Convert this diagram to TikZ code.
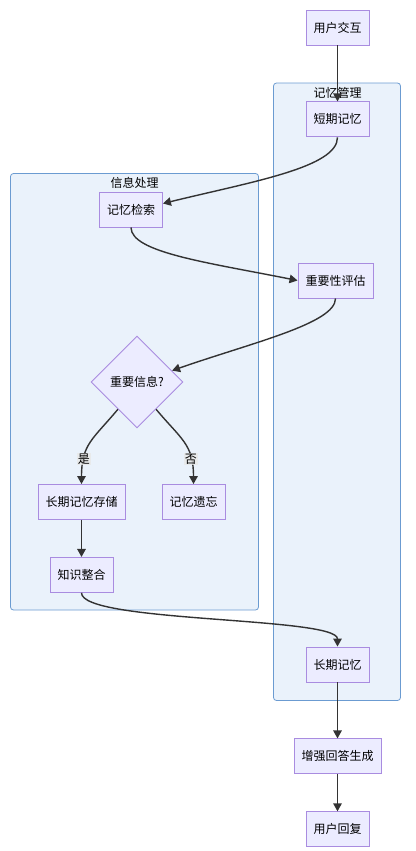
\documentclass[tikz,border=0pt]{standalone}
\usepackage{fontspec}
\newfontfamily\cjkfont{Noto Sans CJK SC}
\usetikzlibrary{arrows.meta,shapes.geometric,positioning}
\definecolor{nodefill}{HTML}{ECECFF}
\definecolor{nodeline}{HTML}{A98CE0}
\definecolor{grpfill}{HTML}{EAF2FB}
\definecolor{grpline}{HTML}{6B9BD1}
\definecolor{edgecol}{HTML}{333333}
\newcommand{\txt}{\cjkfont\fontsize{12}{14}\selectfont}

\begin{document}
\begin{tikzpicture}[
  x=1pt, y=-1pt,
  box/.style={draw=nodeline, fill=nodefill, line width=0.9pt, minimum height=35pt,
              inner xsep=7.5pt, align=center, font=\txt},
  choice/.style={diamond, draw=nodeline, fill=nodefill, line width=0.9pt,
                 minimum width=92pt, minimum height=92pt, inner sep=0pt, font=\txt},
  group/.style={draw=grpline, fill=grpfill, line width=0.8pt, rounded corners=3pt},
  title/.style={inner sep=0pt, font=\txt},
  arr/.style={-{Triangle[length=8pt,width=8.5pt]}, line width=1.4pt, draw=edgecol},
  lbl/.style={fill=gray!18, fill opacity=0.8, text opacity=1, inner sep=1pt, font=\txt}
]
\useasboundingbox (0,0) rectangle (415,851);

\draw[group] (273.5,83) rectangle (400.5,700.5);
\draw[group] (10.5,173.5) rectangle (258.5,610);
\node[title] (memt) at (337.5,93) {记忆管理};
\node[title] (proct) at (134.5,183) {信息处理};

\node[box] (ui) at (337.5,27.5) {用户交互};
\node[box, below=56pt of ui] (stm) {短期记忆};
\node[box] (ret) at (131,209.5) {记忆检索};
\node[box] (imp) at (335.5,280.5) {重要性评估};
\node[choice] (dia) at (137,382) {重要信息?};
\node[box] (lts) at (81.5,502) {长期记忆存储};
\node[box] (fgt) at (193.5,502) {记忆遗忘};
\node[box, below=37pt of lts] (kn) {知识整合};
\node[box] (ltm) at (337.5,664.5) {长期记忆};
\node[box, below=56pt of ltm] (gen) {增强回答生成};
\node[box, below=37pt of gen] (reply) {用户回复};

\draw[arr] (ui) -- (stm);
\draw[arr] (stm.south) .. controls +(0,30) and +(90,-22) .. ([yshift=6pt]ret.east);
\draw[arr] (ret.south) .. controls +(0,25) and +(-90,-18) .. (imp.west);
\draw[arr] (imp.south) .. controls +(0,25) and +(80,-28) .. (dia.18);
\draw[arr] (dia.235) .. controls +(-25,30) and +(0,-40) .. node[lbl, pos=0.74] {是} (lts.north);
\draw[arr] (dia.305) .. controls +(25,30) and +(0,-40) .. node[lbl, pos=0.74] {否} (fgt.north);
\draw[arr] (lts) -- (kn);
\draw[arr] (kn.south) .. controls +(0,30) and +(0,-30) .. (ltm.north);
\draw[arr] (ltm) -- (gen);
\draw[arr] (gen) -- (reply);
\end{tikzpicture}
\end{document}
